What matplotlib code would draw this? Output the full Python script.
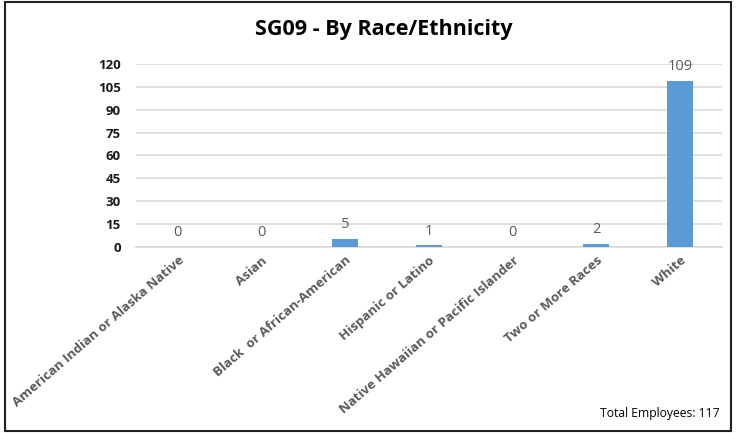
import matplotlib
matplotlib.use("Agg")
import matplotlib.pyplot as plt
from matplotlib.patches import Rectangle

categories = [
    "American Indian or Alaska Native",
    "Asian",
    "Black  or African-American",
    "Hispanic or Latino",
    "Native Hawaiian or Pacific Islander",
    "Two or More Races",
    "White",
]
counts = [0, 0, 5, 1, 0, 2, 109]
y_ticks = [0, 15, 30, 45, 60, 75, 90, 105, 120]
title = "SG09 - By Race/Ethnicity"
footer = "Total Employees: 117"

plt.rcParams["font.family"] = ["Open Sans", "DejaVu Sans"]

W, H = 736, 433
fig = plt.figure(figsize=(W / 100, H / 100), dpi=100)
ax = fig.add_axes([136 / W, 1 - 247 / H, (722 - 136) / W, (247 - 64) / H])

x = list(range(len(categories)))
bars = ax.bar(x, counts, width=0.31, color="#5B9BD5", zorder=3)

for xi, v in zip(x, counts):
    ax.annotate(str(v), (xi, v), xytext=(0, 5), textcoords="offset points",
                ha="center", va="bottom", fontsize=10.5, color="#595959")

ax.set_xlim(-0.5, len(categories) - 0.5)
ax.set_ylim(0, 120)
ax.set_yticks(y_ticks)
ax.set_yticklabels([str(t) for t in y_ticks], fontsize=9.5, fontweight="bold",
                   color="#1a1a1a")
ax.yaxis.grid(True, color="#d9d9d9", linewidth=1.2, zorder=0)
ax.tick_params(axis="y", length=0, pad=11)
ax.tick_params(axis="x", length=0, pad=5)
ax.set_xticks(x)
ax.set_xticklabels(categories, rotation=41, ha="right", rotation_mode="anchor",
                   fontsize=9.5, fontweight="bold", color="#595959")
for s in ["top", "right", "left"]:
    ax.spines[s].set_visible(False)
ax.spines["bottom"].set_color("#d9d9d9")
ax.spines["bottom"].set_linewidth(1.2)

fig.text(384 / W, 1 - 30 / H, title, ha="center", va="center",
         fontsize=15.5, fontweight="bold", color="black")
fig.text(720 / W, 1 - 413 / H, footer, ha="right", va="center",
         fontsize=8.7, color="black")

fig.patches.append(Rectangle((5 / W, 2 / H), (731 - 5) / W, (431 - 2) / H,
                             transform=fig.transFigure, fill=False,
                             edgecolor="#222222", linewidth=1.5))

fig.savefig("out.png", dpi=100)
